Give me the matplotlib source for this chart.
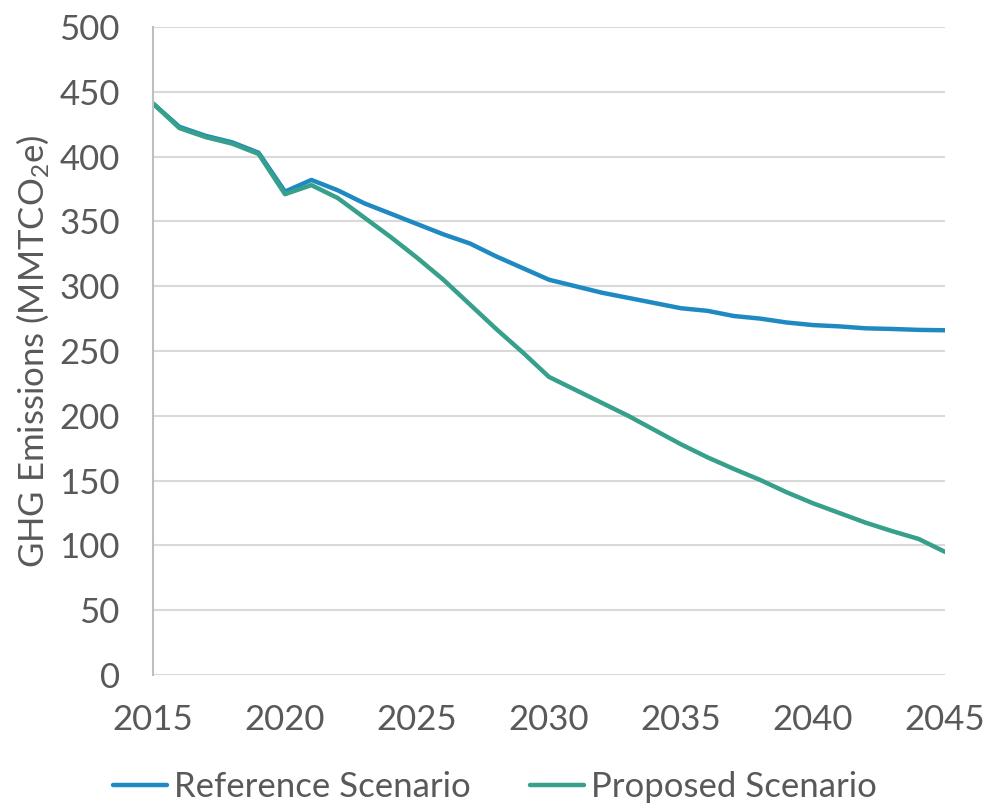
import matplotlib
matplotlib.use("Agg")
import matplotlib.pyplot as plt

years = list(range(2015, 2046))
reference = [441, 423, 416, 411, 403, 373, 382, 374, 364, 356, 348,
             340, 333, 323, 314, 305, 300, 295, 291, 287, 283,
             281, 277, 275, 272, 270, 269, 267.5, 267, 266.3, 266]
proposed = [441, 422, 415, 410, 402, 371, 378, 368, 353, 338, 322,
            305, 286, 267, 249, 230, 220, 210, 200, 189, 178,
            168, 159, 150.5, 141, 132.5, 125, 117.5, 111, 105, 95]

yticks = [0, 50, 100, 150, 200, 250, 300, 350, 400, 450, 500]
xticks = [2015, 2020, 2025, 2030, 2035, 2040, 2045]

plt.rcParams['font.family'] = ['Lato', 'DejaVu Sans']
plt.rcParams['mathtext.fontset'] = 'custom'
plt.rcParams['mathtext.rm'] = 'Lato'
plt.rcParams['mathtext.default'] = 'regular'
text_col = '#595959'

fig = plt.figure(figsize=(9.9, 8.09), dpi=100)
ax = fig.add_axes([153/990, 1-675/809, 792/990, 648/809])

ax.plot(years, reference, color='#1F8AC2', lw=3.2, label='Reference Scenario', solid_capstyle='round')
ax.plot(years, proposed, color='#36A08B', lw=3.2, label='Proposed Scenario', solid_capstyle='round')

ax.set_xlim(2015, 2045)
ax.set_ylim(0, 500)
ax.set_yticks(yticks)
ax.set_xticks(xticks)
ax.grid(axis='y', color='#D9D9D9', lw=1.5)
ax.set_axisbelow(True)
for s in ['top', 'right', 'bottom']:
    ax.spines[s].set_visible(False)
ax.spines['left'].set_color('#BFBFBF')
ax.spines['left'].set_linewidth(1.5)
ax.tick_params(length=0, labelsize=25, colors=text_col)
ax.tick_params(axis='x', pad=21)
ax.tick_params(axis='y', pad=24)

ax.set_ylabel('GHG Emissions (MMTCO$_2$e)', fontsize=25, color=text_col, labelpad=6)

fig.legend(loc='center', bbox_to_anchor=(0.5, 1-787/809), ncol=2, frameon=False,
           fontsize=25, labelcolor=text_col, handlelength=1.55, handletextpad=0.2,
           columnspacing=1.7)

fig.savefig('out.png', dpi=100)
